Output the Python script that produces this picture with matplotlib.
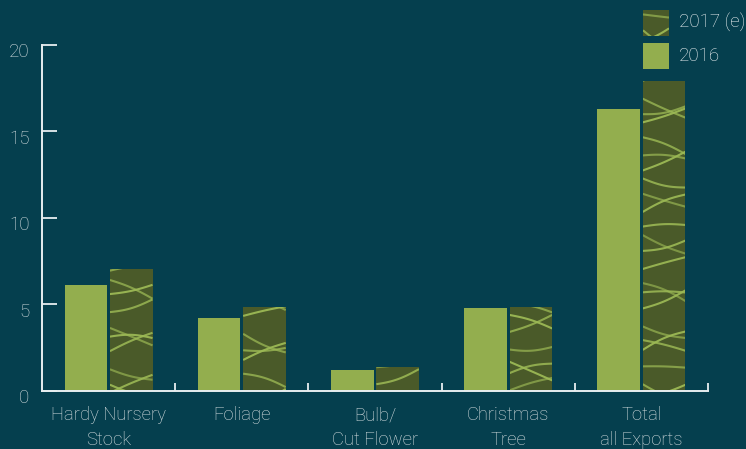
import numpy as np
import matplotlib.pyplot as plt
from matplotlib.patches import Rectangle
from matplotlib.transforms import ScaledTranslation

# Chart values
categories = ['Hardy Nursery\nStock', 'Foliage', 'Bulb/\nCut Flower', 'Christmas\nTree', 'Total\nall Exports']
values_2016 = [6.1, 4.2, 1.2, 4.8, 16.3]
values_2017 = [7.05, 4.85, 1.35, 4.85, 17.9]
yticks = [0, 5, 10, 15, 20]
series_labels = ['2017 (e)', '2016']

BG = '#053f4e'
GREEN = '#93ae4e'
OLIVE = '#4a5a29'
STREAK = '#9cb955'
TEXT = '#d8e0e2'
AXIS = '#e8eef0'

plt.rcParams['font.family'] = ['Roboto', 'DejaVu Sans']
plt.rcParams['font.weight'] = 'light'


def add_texture(target, patch, x0, x1, y0, y1, step, seed):
    # light streaks over the dark bar, clipped to the bar shape
    t = np.linspace(0, 1, 40)
    xs = x0 + (x1 - x0) * t
    k = 0
    base = y0 - step
    while base < y1 + step:
        slope = step * 1.1 * np.sin(1.9 * k + seed)
        bend = step * 0.15 * np.cos(1.3 * k + 2 * seed)
        ys = base + slope * t + bend * np.sin(np.pi * t)
        ln, = target.plot(xs, ys, color=STREAK, lw=1.5,
                          alpha=0.6 + 0.35 * abs(np.sin(k + seed)),
                          solid_capstyle='butt', zorder=patch.get_zorder() + 0.1)
        ln.set_clip_path(patch)
        k += 1
        base += step * (0.45 + 0.6 * abs(np.cos(0.8 * k + seed)))


fig = plt.figure(figsize=(7.46, 4.49), dpi=100, facecolor=BG)
ax = fig.add_axes([42 / 746, 58.5 / 449, 666 / 746, 345.5 / 449])
ax.set_facecolor(BG)

x = np.arange(len(categories))
w = 0.32
off = 0.17
ax.bar(x - off, values_2016, w, color=GREEN, zorder=2)
bars = ax.bar(x + off, values_2017, w, color=OLIVE, zorder=2)
for i, b in enumerate(bars):
    add_texture(ax, b, b.get_x(), b.get_x() + b.get_width(), 0, b.get_height(), 1.0, i * 1.7)

ax.set_xlim(-0.5, 4.5)
ax.set_ylim(0, 20)

for s in ['top', 'right']:
    ax.spines[s].set_visible(False)
for s in ['left', 'bottom']:
    ax.spines[s].set_color(AXIS)
    ax.spines[s].set_linewidth(1.4)

ax.set_yticks(yticks)
ax.tick_params(axis='y', direction='in', length=11, width=1.3, color=AXIS,
               labelcolor=TEXT, labelsize=13.5, pad=9)
for lab in ax.get_yticklabels():
    lab.set_transform(lab.get_transform() + ScaledTranslation(0, -0.055, fig.dpi_scale_trans))

ax.set_xticks(x + 0.5)
ax.set_xticklabels([])
ax.tick_params(axis='x', which='major', direction='in', length=6, width=1.3, color=AXIS)
ax.set_xticks(x, minor=True)
ax.set_xticklabels(categories, minor=True, linespacing=1.45)
ax.tick_params(axis='x', which='minor', length=0, pad=11.5, labelcolor=TEXT, labelsize=13.3)

# legend swatches (top right)
legend_rows = [(series_labels[0], 10, True), (series_labels[1], 43, False)]
for label, top, textured in legend_rows:
    sw = fig.add_axes([643 / 746, 1 - (top + 26) / 449, 26 / 746, 26 / 449])
    sw.set_xlim(0, 1)
    sw.set_ylim(0, 1)
    sw.axis('off')
    r = Rectangle((0, 0), 1, 1, color=OLIVE if textured else GREEN)
    sw.add_patch(r)
    if textured:
        add_texture(sw, r, 0, 1, 0, 1, 0.6, 0.4)
    fig.text(679 / 746, 1 - (top + 13) / 449, label, color='#f0f4f5',
             fontsize=13.5, va='center', ha='left')

fig.savefig('out.png', dpi=100, facecolor=BG)
